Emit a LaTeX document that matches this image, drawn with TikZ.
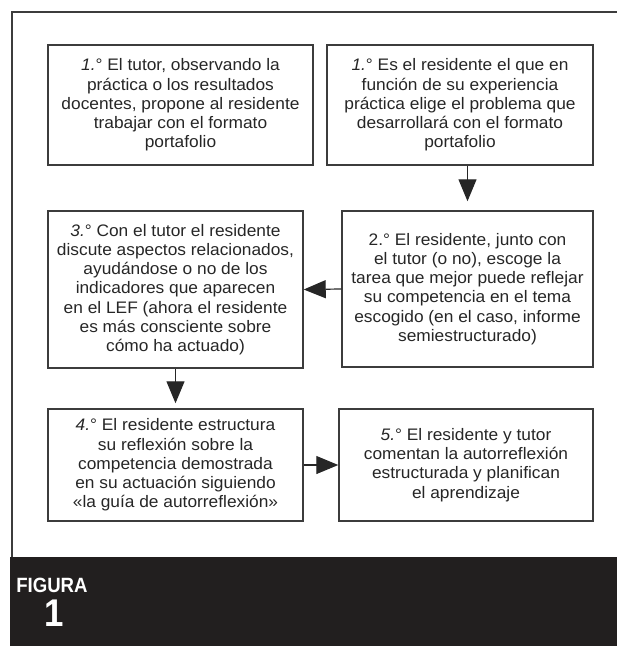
\documentclass[tikz,border=0pt]{standalone}
\usepackage{fontspec}
\setmainfont[FakeStretch=1.04]{Liberation Sans}
\newfontfamily\figfont[FakeStretch=0.9]{Liberation Sans}
\usetikzlibrary{arrows.meta}

\definecolor{linegray}{HTML}{3C3C3C}
\definecolor{inkgray}{HTML}{262626}
\definecolor{bandblack}{HTML}{221F1F}

\tikzset{
  stepbox/.style={draw=linegray, line width=1.1pt, text=inkgray, align=center, inner sep=0pt,
    font=\fontsize{12.5}{14.4}\selectfont},
  flow/.style={draw=inkgray, line width=0.9pt, -{Triangle[length=16.5pt,width=13.5pt]}}
}

\begin{document}
\begin{tikzpicture}[x=0.75pt,y=-0.75pt]
\useasboundingbox (0,0) rectangle (617,646);
% frame and band
\draw[linegray, line width=1.5pt] (12,557) -- (12,12) -- (617,12);
\fill[bandblack] (10,557) rectangle (617,646);
\node[anchor=base west, inner sep=0pt, text=white, font=\figfont\bfseries\fontsize{15.5}{15.5}\selectfont] (figlabel) at (16,592) {FIGURA};
\node[anchor=base, inner sep=0pt, text=white, font=\figfont\bfseries\fontsize{29}{29}\selectfont] (fignum) at (54,626) {1};

% steps
\node[stepbox, minimum width=198.75pt, minimum height=90pt] (tutorprop) at (180.5,105) {\textit{1.}° El tutor, observando la\\práctica o los resultados\\docentes, propone al residente\\trabajar con el formato\\portafolio};
\node[stepbox, minimum width=199.5pt, minimum height=90pt] (residelige) at (460,105) {\textit{1.}° Es el residente el que en\\función de su experiencia\\práctica elige el problema que\\desarrollará con el formato\\portafolio};
\node[stepbox, minimum width=188.25pt, minimum height=117pt] (tarea) at (467.5,289) {2.° El residente, junto con\\el tutor (o no), escoge la\\tarea que mejor puede reflejar\\su competencia en el tema\\escogido (en el caso, informe\\semiestructurado)};
\node[stepbox, minimum width=191.25pt, minimum height=117.75pt] (discute) at (175.5,289.5) {\textit{3.}° Con el tutor el residente\\discute aspectos relacionados,\\ayudándose o no de los\\indicadores que aparecen\\en el LEF (ahora el residente\\es más consciente sobre\\cómo ha actuado)};
\node[stepbox, minimum width=191.25pt, minimum height=84pt] (estructura) at (175.5,465) {\textit{4.}° El residente estructura\\su reflexión sobre la\\competencia demostrada\\en su actuación siguiendo\\«la guía de autorreflexión»};
\node[stepbox, minimum width=190.5pt, minimum height=84pt] (comentan) at (466,465) {\textit{5.}° El residente y tutor\\comentan la autorreflexión\\estructurada y planifican\\el aprendizaje};

% connectors
\draw[flow, shorten >=6.75pt] (residelige.south -| tarea.north) -- (tarea.north);
\draw[flow] (tarea.west) -- (discute.east);
\draw[flow, shorten >=3.75pt] (discute.south) -- (estructura.north);
\draw[flow] (estructura.east) -- (comentan.west);
\end{tikzpicture}
\end{document}
